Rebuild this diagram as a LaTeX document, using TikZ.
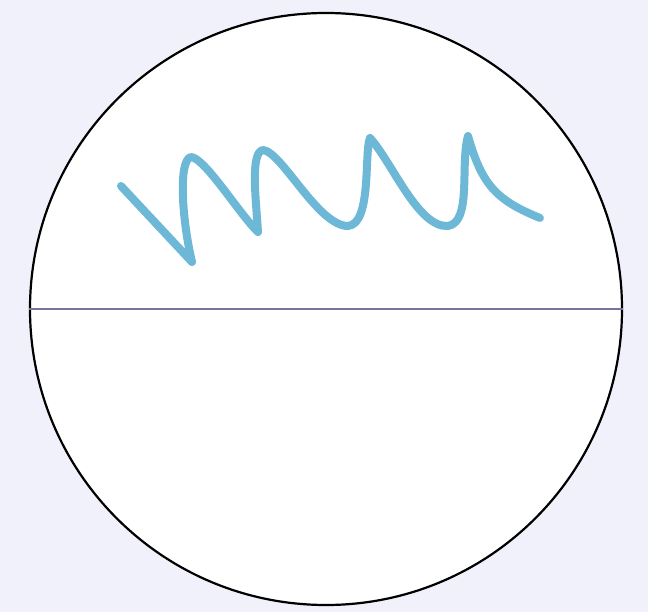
\documentclass[tikz,border=0pt]{standalone}
\usepackage{tikz}
\definecolor{bgcol}{HTML}{F1F1FB}
\definecolor{wavecol}{HTML}{6CB8D6}
\definecolor{linecol}{HTML}{75759A}
\tikzset{
  disc/.style={circle, draw=black, line width=2.2pt, fill=white, minimum size=592pt, inner sep=0pt},
  diam/.style={draw=linecol, line width=2.4pt},
  wave/.style={draw=wavecol, line width=8pt, line cap=round, line join=round}
}
\begin{document}
\begin{tikzpicture}[x=1pt,y=-1pt]
\fill[bgcol] (0,0) rectangle (648,612);
\useasboundingbox (0,0) rectangle (648,612);
\node[disc] (c) at (326,309) {};
\draw[diam] (c.west) -- (c.east);
\coordinate (w0) at (121,186);
\draw[wave] (w0) -- (192,262) .. controls (182,220) and (178,160) .. (191,157)
  .. controls (205,158) and (240,215) .. (258,232)
  .. controls (256,200) and (250,152) .. (263,150)
  .. controls (282,152) and (318,226) .. (348,226)
  .. controls (372,224) and (364,152) .. (370,138)
  .. controls (392,162) and (418,228) .. (448,226)
  .. controls (472,222) and (460,165) .. (468,136)
  .. controls (482,185) and (496,200) .. (540,218);
\end{tikzpicture}
\end{document}
